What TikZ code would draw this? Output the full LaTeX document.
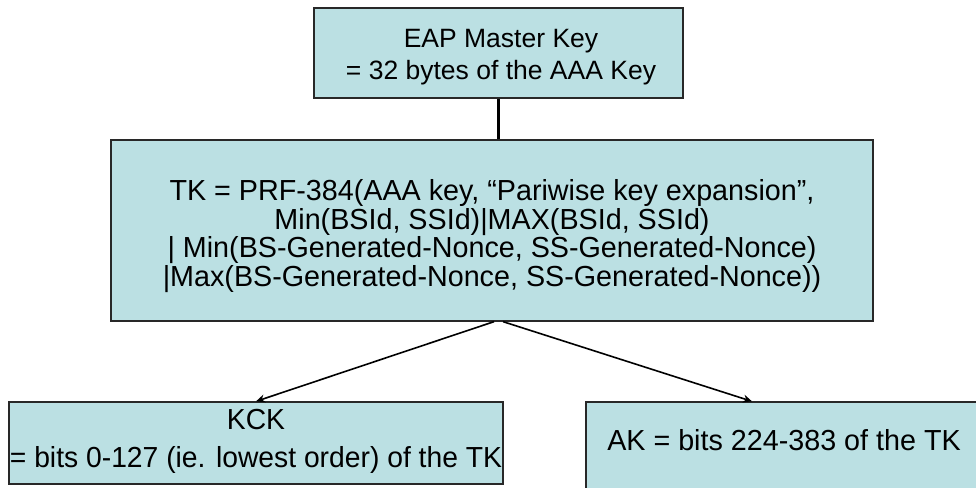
\documentclass[tikz,border=0pt]{standalone}
\usepackage{fontspec}
\setmainfont{Liberation Sans}
\newfontfamily\narrowfont[FakeStretch=0.99]{Liberation Sans}
\newfontfamily\kckfont[FakeStretch=0.975]{Liberation Sans}
\usetikzlibrary{arrows.meta,calc}
\definecolor{boxfill}{RGB}{187,224,227}
\definecolor{boxline}{RGB}{40,40,40}
\tikzset{
  keybox/.style={draw=boxline, line width=1.3pt, fill=boxfill, rectangle, inner sep=0pt, align=center},
  conn/.style={draw=black, line width=1.6pt, -{Stealth[length=9pt,width=8pt]}}
}
\begin{document}
\begin{tikzpicture}[x=1pt,y=-1pt]
\useasboundingbox (0,0) rectangle (976,487);
\clip (0,0) rectangle (976,487);
\fill[white] (0,0) rectangle (976,487);
% top box
\node[keybox, minimum width=369pt, minimum height=90pt] (eap) at (498.5,53) {};
\node[align=center, font=\fontsize{26.5}{32}\selectfont] (eaptext) at (501,57)
  {EAP Master Key\\= 32 bytes of the AAA Key};
% middle box
\node[keybox, minimum width=762pt, minimum height=181pt] (tk) at (492,230.5) {};
\node[align=center, font=\narrowfont\fontsize{29}{28.5}\selectfont] (tktext) at (492,236)
  {TK = PRF-384(AAA key, “Pariwise key expansion”,\\Min(BSId, SSId)|MAX(BSId, SSId)\\| Min(BS-Generated-Nonce, SS-Generated-Nonce)\\|Max(BS-Generated-Nonce, SS-Generated-Nonce))};
% bottom boxes
\node[keybox, minimum width=494pt, minimum height=82pt] (kck) at (256,443) {};
\node[align=center, font=\kckfont\fontsize{29}{38}\selectfont] (kcktext) at (256,441)
  {KCK\\= bits 0-127 (ie. lowest order) of the TK};
\node[keybox, minimum width=396pt, minimum height=100pt] (ak) at (784,452) {};
\node[font=\narrowfont\fontsize{29}{34}\selectfont] (aktext) at (784,440) {AK = bits 224-383 of the TK};
% connectors
\draw[line width=3pt] (eap.south) -- (eap.south |- tk.north);
\coordinate (apexL) at ($(tk.south)+(2,0)$);
\coordinate (apexR) at ($(tk.south)+(11,0)$);
\coordinate (akin) at ($(ak.north)+(-32,0)$);
\draw[conn] (apexL) -- (kck.north);
\draw[conn] (apexR) -- (akin);
\end{tikzpicture}
\end{document}
